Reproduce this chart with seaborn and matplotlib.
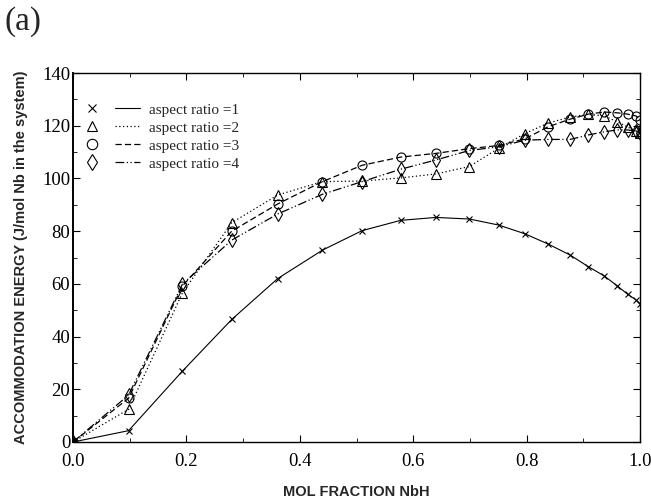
import matplotlib
matplotlib.use("Agg")
import matplotlib.pyplot as plt
from matplotlib.lines import Line2D
from matplotlib.legend_handler import HandlerTuple
from matplotlib.ticker import MultipleLocator
import pandas as pd
import seaborn as sns

# Mole fraction of NbH
mol_fraction = [0.0, 0.098, 0.193, 0.280, 0.361, 0.440, 0.510, 0.578, 0.640, 0.699,
                0.751, 0.797, 0.838, 0.877, 0.909, 0.937, 0.960, 0.978, 0.993, 1.0]

# Accommodation energy (J/mol Nb in the system) per aspect ratio
energy_ar1 = [0.0, 4.3, 26.9, 46.5, 62.0, 72.8, 80.2, 84.1, 85.2, 84.6,
              82.3, 79.0, 75.1, 70.9, 66.5, 63.0, 59.2, 56.1, 53.9, 52.4]
energy_ar2 = [0.0, 12.4, 56.6, 83.2, 93.7, 98.8, 99.0, 100.2, 101.7, 104.5,
              111.5, 117.0, 121.0, 123.3, 124.3, 123.7, 121.5, 119.5, 118.0, 117.2]
energy_ar3 = [0.0, 16.6, 59.2, 80.0, 90.3, 98.8, 105.0, 108.1, 109.5, 111.3,
              112.5, 115.0, 119.6, 122.5, 124.4, 125.2, 124.9, 124.4, 123.7, 122.2]
energy_ar4 = [0.0, 17.8, 59.9, 76.6, 86.5, 94.0, 98.8, 103.5, 107.0, 110.6,
              112.0, 114.5, 114.8, 114.8, 116.5, 117.7, 118.4, 118.4, 118.0, 117.2]

labels = ["aspect ratio =1", "aspect ratio =2", "aspect ratio =3", "aspect ratio =4"]

sns.set_style("ticks")
plt.rcParams["font.family"] = ["Liberation Serif", "DejaVu Serif"]

series = [
    (labels[0], energy_ar1, "-", "x", 4.5, 0.8),
    (labels[1], energy_ar2, (0, (1, 2)), "^", 6.5, 0.9),
    (labels[2], energy_ar3, (0, (5, 2.5)), "o", 6.5, 0.9),
    (labels[3], energy_ar4, (0, (7, 2, 1, 2, 1, 2)), "d", 7.0, 0.9),
]

fig = plt.figure(figsize=(6.51, 5.0), dpi=100)
ax = fig.add_axes([73 / 651, 58 / 500, 567 / 651, 369 / 500])

handles = []
for name, values, ls, mk, ms, lw in series:
    df = pd.DataFrame({"x": mol_fraction, "y": values})
    sns.lineplot(data=df, x="x", y="y", ax=ax, color="black", linestyle=ls,
                 linewidth=lw, marker=mk, markersize=ms, markerfacecolor="none",
                 markeredgecolor="black", markeredgewidth=0.8,
                 estimator=None, sort=False, legend=False)
    mark_handle = Line2D([], [], linestyle="none", marker=mk, markersize=ms + 1,
                         markerfacecolor="none", markeredgecolor="black",
                         markeredgewidth=0.8)
    line_handle = Line2D([], [], color="black", linestyle=ls, linewidth=lw)
    handles.append((mark_handle, line_handle))

ax.set_xlim(0, 1.0)
ax.set_ylim(0, 140)
ax.xaxis.set_major_locator(MultipleLocator(0.2))
ax.xaxis.set_minor_locator(MultipleLocator(0.1))
ax.yaxis.set_major_locator(MultipleLocator(20))
ax.yaxis.set_minor_locator(MultipleLocator(10))
ax.set_xticks([0, 0.2, 0.4, 0.6, 0.8, 1.0])
ax.set_xticklabels(["0.0", "0.2", "0.4", "0.6", "0.8", "1.0"])
ax.tick_params(which="both", direction="in", top=True, right=True,
               labelsize=13.5, colors="black")
ax.tick_params(axis="x", pad=8)
ax.tick_params(axis="y", pad=2)
ax.tick_params(which="major", length=5, width=0.8)
ax.tick_params(which="minor", length=3, width=0.6)
for side in ["left", "right", "top", "bottom"]:
    ax.spines[side].set_visible(True)
    ax.spines[side].set_color("black")
    ax.spines[side].set_linewidth(1.0)
ax.spines["left"].set_linewidth(1.4)

ax.set_xlabel("MOL FRACTION NbH", family=["Liberation Sans", "DejaVu Sans"],
              fontweight="bold", fontsize=10.5, labelpad=11)
ax.set_ylabel("ACCOMMODATION ENERGY (J/mol Nb in the system)",
              family=["Liberation Sans", "DejaVu Sans"],
              fontweight="bold", fontsize=10.5, labelpad=10)

leg = ax.legend(handles, labels, handler_map={tuple: HandlerTuple(ndivide=None, pad=0.7)},
                loc="upper left", bbox_to_anchor=(0.0, 0.935), frameon=False,
                fontsize=11, handlelength=4.0, handletextpad=0.6,
                labelspacing=0.28, borderaxespad=0)

fig.text(4 / 651, 1 - 22 / 500, "(a)", fontsize=24, va="center", ha="left")

fig.savefig("out.png", dpi=100)
